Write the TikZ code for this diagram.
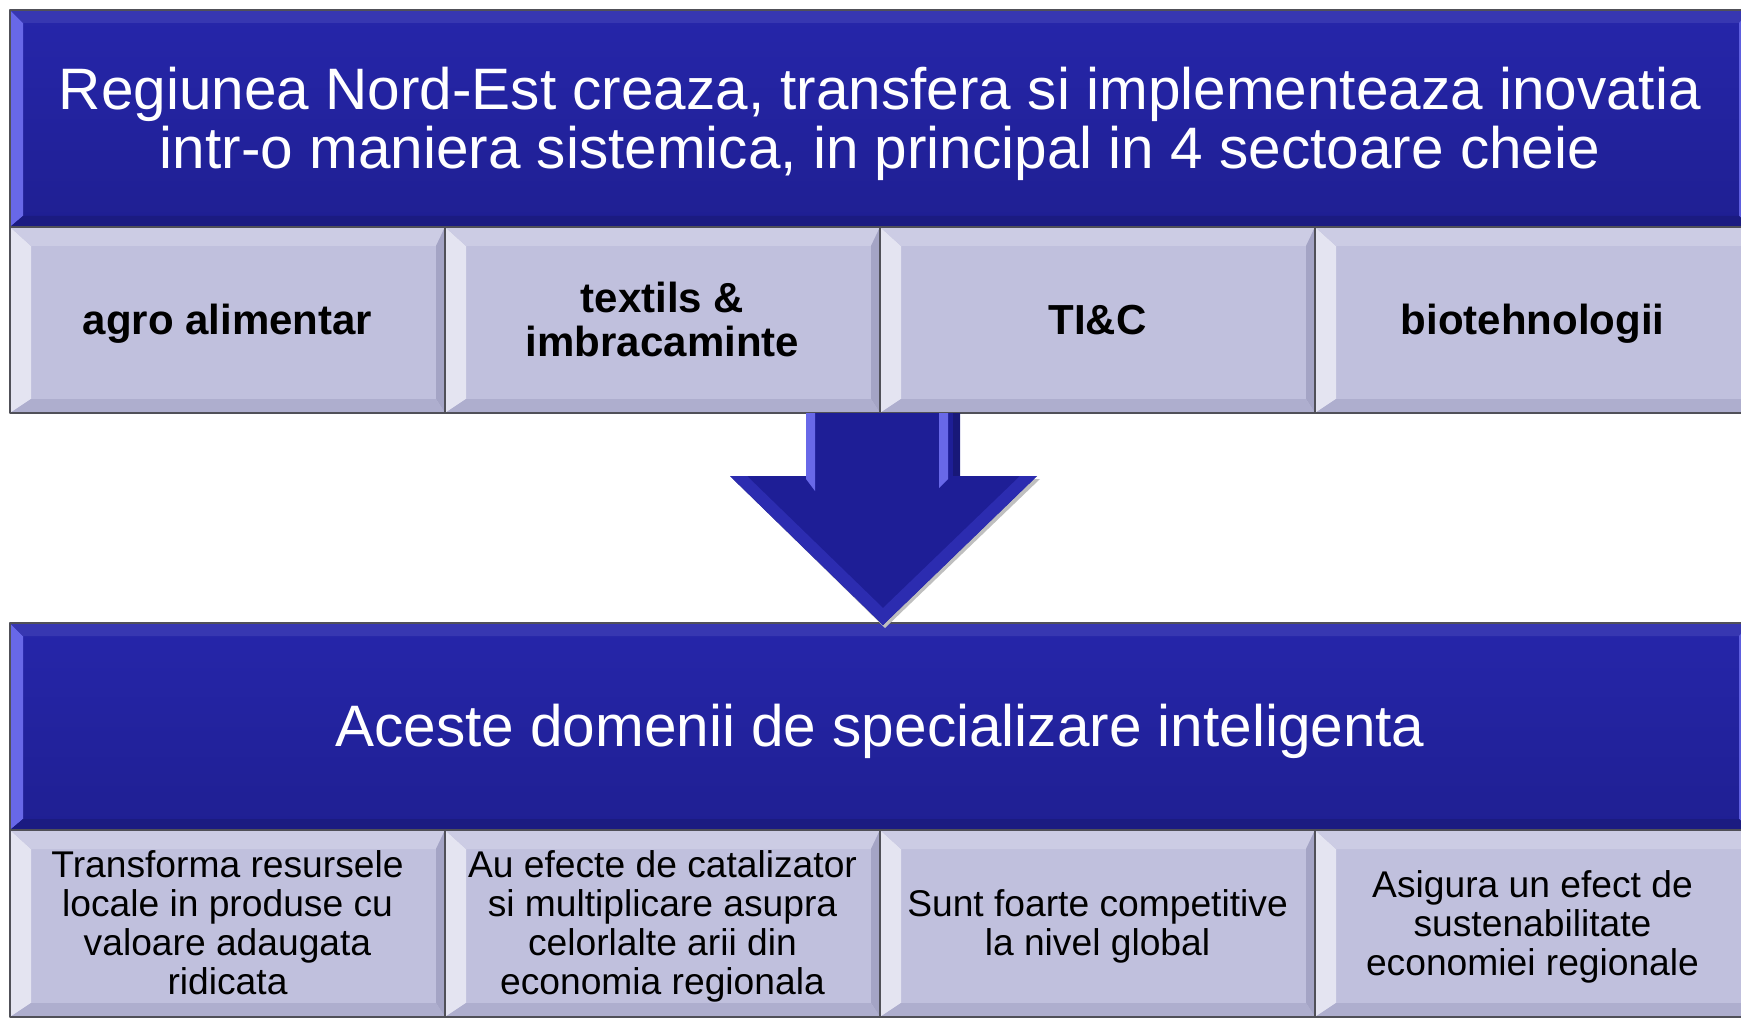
\documentclass[tikz,border=0pt]{standalone}
\usepackage{fontspec}
\setmainfont{Liberation Sans}
\usepackage{tikz}
\usetikzlibrary{calc,positioning}

\definecolor{bannerblue}{RGB}{38,38,170}
\definecolor{bannerdark}{RGB}{31,31,146}
\definecolor{bannerlight}{RGB}{104,104,232}
\definecolor{cellfill}{RGB}{192,192,221}
\definecolor{celllight}{RGB}{228,228,241}
\definecolor{celltop}{RGB}{204,204,228}
\definecolor{cellshade}{RGB}{164,164,197}
\definecolor{cellbottom}{RGB}{174,174,206}
\definecolor{edgegray}{RGB}{80,80,88}
\definecolor{arrowblue}{RGB}{30,30,150}
\definecolor{arrowband}{RGB}{44,44,176}

% four trapezoids of a bevelled box: insets l,t,r,b then colours l,t,r,b
\newcommand{\bevelparts}[8]{%
  \fill[#5] (path picture bounding box.north west) -- ([xshift=#1,yshift=-#2]path picture bounding box.north west)
     -- ([xshift=#1,yshift=#4]path picture bounding box.south west) -- (path picture bounding box.south west) -- cycle;
  \fill[#6] (path picture bounding box.north west) -- (path picture bounding box.north east)
     -- ([xshift=-#3,yshift=-#2]path picture bounding box.north east) -- ([xshift=#1,yshift=-#2]path picture bounding box.north west) -- cycle;
  \fill[#7] (path picture bounding box.north east) -- (path picture bounding box.south east)
     -- ([xshift=-#3,yshift=#4]path picture bounding box.south east) -- ([xshift=-#3,yshift=-#2]path picture bounding box.north east) -- cycle;
  \fill[#8] (path picture bounding box.south west) -- (path picture bounding box.south east)
     -- ([xshift=-#3,yshift=#4]path picture bounding box.south east) -- ([xshift=#1,yshift=#4]path picture bounding box.south west) -- cycle;
}

\begin{document}
\begin{tikzpicture}
    [line cap=round,line join=round,x=1pt,y=-1pt,
     linebox/.style={execute at begin node={\noindent\rule[-0.212em]{0pt}{1.117em}},
        execute at end node={\rule[-0.212em]{0pt}{0pt}}},
     banner/.style={rectangle,inner sep=0pt,outer sep=0pt,anchor=north west,minimum width=1740pt,
        top color=bannerblue,bottom color=bannerdark,draw=edgegray,line width=1.2pt,
        text=white,text width=1720pt,align=flush center,font=\fontsize{58.5}{59}\selectfont,linebox,
        path picture={\bevelparts{13pt}{13pt}{11pt}{11pt}{bannerlight}{bannerblue!92!white}{bannerlight!85!bannerblue}{bannerdark!88!black}}},
     sector/.style={rectangle,inner sep=0pt,outer sep=0pt,minimum width=435pt,minimum height=186pt,
        fill=cellfill,draw=edgegray,line width=1.2pt,text=black,text width=425pt,align=flush center,linebox,
        font=\bfseries\fontsize{42}{44}\selectfont,
        path picture={\bevelparts{21pt}{19pt}{9pt}{14pt}{celllight}{celltop}{cellshade}{cellbottom}}},
     effect/.style={sector,minimum height=187pt,font=\fontsize{37.2}{39}\selectfont}]
\useasboundingbox (0,0) rectangle (1741,1019);
\clip (0,0) rectangle (1741,1019);
%upper block
\node[banner,minimum height=217pt] (nordest) at (10,10)
    {Regiunea Nord-Est creaza, transfera si implementeaza inovatia\\intr-o maniera sistemica, in principal in 4 sectoare cheie};
\node[sector,anchor=north west] (s1) at (nordest.south west) {agro alimentar};
\node[sector,right=0pt of s1] (s2) {textils \&\\imbracaminte};
\node[sector,right=0pt of s2] (s3) {TI\&C};
\node[sector,right=0pt of s3] (s4) {biotehnologii};
%lower block
\node[banner,minimum height=207pt] (domenii) at (10,623) {Aceste domenii de specializare inteligenta};
\node[effect,anchor=north west] (e1) at (domenii.south west)
    {Transforma resursele\\locale in produse cu\\valoare adaugata\\ridicata};
\node[effect,right=0pt of e1] (e2)
    {Au efecte de catalizator\\si multiplicare asupra\\celorlalte arii din\\economia regionala};
\node[effect,right=0pt of e2] (e3) {Sunt foarte competitive\\la nivel global};
\node[effect,right=0pt of e3] (e4) {Asigura un efect de\\sustenabilitate\\economiei regionale};
%the block arrow between them
\coordinate (arrtop) at ($(s2.south east)+(3,0)$);
\coordinate (arrtip) at ($(arrtop |- domenii.north)+(0,2)$);
 \fill[black!25] ($(arrtop)+(-150,66)$) -- ($(arrtip)+(2,3)$) -- ($(arrtop)+(157,66)$) -- cycle;
\fill[arrowblue] ($(arrtop)+(-77,0)$) -- ($(arrtop)+(-77,63)$) -- ($(arrtop)+(-153,63)$) -- (arrtip)
    -- ($(arrtop)+(154,63)$) -- ($(arrtop)+(77,63)$) -- ($(arrtop)+(77,0)$) -- cycle;
\fill[arrowband,even odd rule] ($(arrtop)+(-153,63)$) -- (arrtip) -- ($(arrtop)+(154,63)$) -- cycle
    ($(arrtop)+(-136,63)$) -- ($(arrtip)+(0,-17)$) -- ($(arrtop)+(137,63)$) -- cycle;
\fill[arrowblue] ($(arrtop)+(-128,63)$) -- ($(arrtop)+(129,63)$) -- ($(arrtop)+(116,72)$) -- ($(arrtop)+(-115,72)$) -- cycle;
 \fill[bannerlight] ($(arrtop)+(-77,0)$) -- ($(arrtop)+(-77,66)$) -- ($(arrtop)+(-68,78)$) -- ($(arrtop)+(-68,0)$) -- cycle;
 \fill[bannerlight] ($(arrtop)+(56,0)$) -- ($(arrtop)+(56,75)$) -- ($(arrtop)+(65,66)$) -- ($(arrtop)+(65,0)$) -- cycle;
 \fill[arrowblue!80!black] ($(arrtop)+(70,0)$) -- ($(arrtop)+(70,63)$) -- ($(arrtop)+(77,63)$) -- ($(arrtop)+(77,0)$) -- cycle;
\end{tikzpicture}
\end{document}
